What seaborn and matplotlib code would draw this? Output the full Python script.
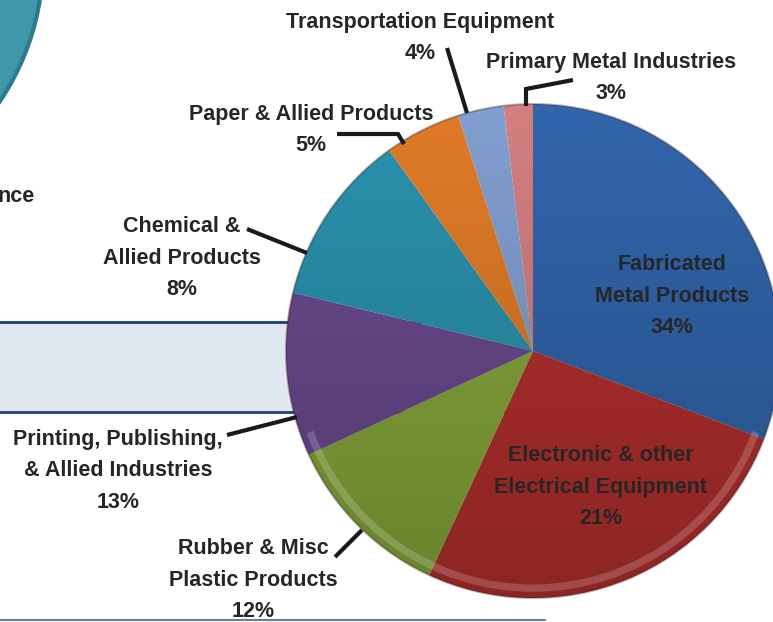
import numpy as np
import matplotlib.pyplot as plt
import seaborn as sns
from matplotlib.patches import Circle, Rectangle, Wedge

# industry groups, clockwise from 12 o'clock
sectors = ["Fabricated\nMetal Products", "Electronic & other\nElectrical Equipment",
           "Rubber & Misc\nPlastic Products", "Printing, Publishing,\n& Allied Industries",
           "Chemical &\nAllied Products", "Paper & Allied Products",
           "Transportation Equipment", "Primary Metal Industries"]
pct_labels = [34, 21, 12, 13, 8, 5, 4, 3]
# wedge sizes as drawn in the picture (they do not quite follow the printed labels)
wedge_share = [30.8, 26.1, 11.2, 10.7, 11.3, 5.0, 3.0, 1.9]
colors = ["#3165ab", "#b3302d", "#86a83a", "#6a4a8e", "#2a92ad", "#e07b27", "#819fd0", "#d37f80"]

sns.set_theme(style="white")
plt.rcParams['font.family'] = ['Liberation Sans', 'DejaVu Sans']

W, H = 773, 622
def Y(y):
    return H - y

fig = plt.figure(figsize=(7.73, 6.22), dpi=100)
ax = fig.add_axes([0, 0, 1, 1])

# background bits of the slide
ax.add_patch(Circle((-210, Y(-40)), 253, fc="#3f98aa", ec="#2c7b8c", lw=3, zorder=1))
ax.add_patch(Rectangle((0, Y(412)), 560, 90, fc="#e1e7f0", ec="none", zorder=1))
ax.plot([0, 560], [Y(322), Y(322)], color="#1f3d78", lw=2, zorder=1)
ax.plot([0, 560], [Y(412), Y(412)], color="#1f3d78", lw=2, zorder=1)
ax.plot([0, 545], [Y(620), Y(620)], color="#6b7d98", lw=1.5, zorder=1)

cx, cy, R = 533, Y(351), 247
wedges, _ = ax.pie(wedge_share, colors=colors, startangle=90, counterclock=False,
                   center=(cx, cy), radius=R, wedgeprops=dict(linewidth=0))
for w in wedges:
    w.set_zorder(2)

# soft shading + rim to mimic the glossy look
clip = Circle((cx, cy), R, transform=ax.transData)
grad = np.zeros((256, 1, 4))
grad[:, 0, 3] = np.linspace(0.0, 0.22, 256)
im = ax.imshow(grad, extent=[cx - R, cx + R, cy - R, cy + R], aspect="auto", zorder=3)
im.set_clip_path(clip)
ax.add_patch(Wedge((cx, cy), R * 0.975, 200, 340, width=R * 0.03, fc="white", alpha=0.18, lw=0, zorder=4))
ax.add_patch(Circle((cx, cy), R, fc="none", ec="#3a2020", lw=1.5, alpha=0.35, zorder=4))

txt = dict(ha="center", va="center", fontsize=15.5, fontweight="bold", color="#262626",
           linespacing=1.68, zorder=6)

# inside labels
inside_pos = {0: (672, 296), 1: (601, 487)}
for i, (x, y) in inside_pos.items():
    ax.text(x, Y(y), f"{sectors[i]}\n{pct_labels[i]}%", **txt)

# outside labels
outside_pos = {2: (253, 580), 3: (118, 471), 4: (182, 258), 5: (311, 130), 6: (420, 38), 7: (611, 78)}
for i, (x, y) in outside_pos.items():
    ax.text(x, Y(y), f"{sectors[i]}\n{pct_labels[i]}%", **txt)

ax.text(16, Y(196), "nce", **txt)

# leader lines
leaders = [
    [(447, 48), (467, 113)],
    [(573, 80), (526, 89), (526, 106)],
    [(337, 134), (398, 134), (404, 144)],
    [(247, 229), (307, 253)],
    [(227, 435), (297, 417)],
    [(335, 557), (362, 530)],
]
for pts in leaders:
    xs = [p[0] for p in pts]
    ys = [Y(p[1]) for p in pts]
    ax.plot(xs, ys, color="#1a1a1a", lw=3, solid_capstyle="butt", solid_joinstyle="miter", zorder=5)

ax.set_xlim(0, W)
ax.set_ylim(0, H)
ax.set_aspect("auto")
ax.axis("off")

fig.savefig("out.png", dpi=100)
